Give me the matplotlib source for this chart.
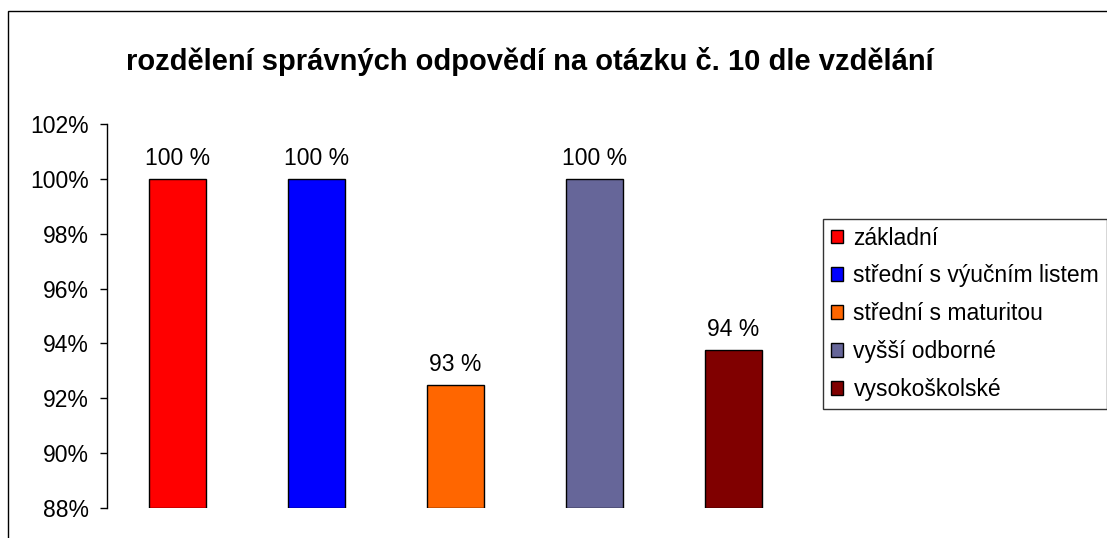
import math
import matplotlib
matplotlib.use("Agg")
import matplotlib.pyplot as plt
from matplotlib.patches import Rectangle, Patch

categories = ["základní", "střední s výučním listem", "střední s maturitou",
              "vyšší odborné", "vysokoškolské"]
values = [100, 100, 92.5, 100, 93.75]
colors = ["#FF0000", "#0000FF", "#FF6600", "#666699", "#800000"]
yticks = [88, 90, 92, 94, 96, 98, 100, 102]

plt.rcParams["font.family"] = ["Liberation Sans", "DejaVu Sans"]

fig = plt.figure(figsize=(11.07, 5.38), dpi=100)
W, H = 1107, 538
# outer chart border (clipped by image on right and bottom)
fig.patches.append(Rectangle((8 / W, -0.1), 1.2, 1 - 11 / H + 0.1, transform=fig.transFigure,
                             fill=False, edgecolor="black", linewidth=1.0, clip_on=False))

ax = fig.add_axes([107 / W, 1 - 508 / H, (804 - 107) / W, (508 - 124) / H])
x = list(range(len(values)))
ax.bar(x, [v - 88 for v in values], bottom=88, width=0.41, color=colors,
       edgecolor="black", linewidth=1.0)
for xi, v in zip(x, values):
    ax.annotate(f"{math.floor(v + 0.5)} %", (xi, v), xytext=(0, 10), textcoords="offset points",
                ha="center", va="baseline", fontsize=16.5)

ax.set_xlim(-0.507, 4.507)
ax.set_ylim(88, 102)
ax.set_yticks(yticks)
ax.set_yticklabels([f"{t}%" for t in yticks], fontsize=16.5)
ax.set_xticks([])
for s in ["top", "right", "bottom"]:
    ax.spines[s].set_visible(False)
ax.spines["left"].set_linewidth(1.0)
ax.tick_params(axis="y", direction="out", length=5, width=1.0, pad=8)

fig.text(530 / W, 1 - 62 / H, "rozdělení správných odpovědí na otázku č. 10 dle vzdělání",
         ha="center", va="center", fontsize=21, fontweight="bold")

handles = [Patch(facecolor=c, edgecolor="black", linewidth=1.0) for c in colors]
leg = fig.legend(handles, categories, loc="upper left", bbox_to_anchor=(823 / W, 1 - 219 / H),
                 fontsize=16.5, frameon=True, fancybox=False, handlelength=0.55, handleheight=0.55,
                 handletextpad=0.45, labelspacing=0.65, borderpad=0.33, borderaxespad=0)
leg.get_frame().set_edgecolor("black")
leg.get_frame().set_linewidth(1.0)

fig.savefig("out.png", dpi=100)
